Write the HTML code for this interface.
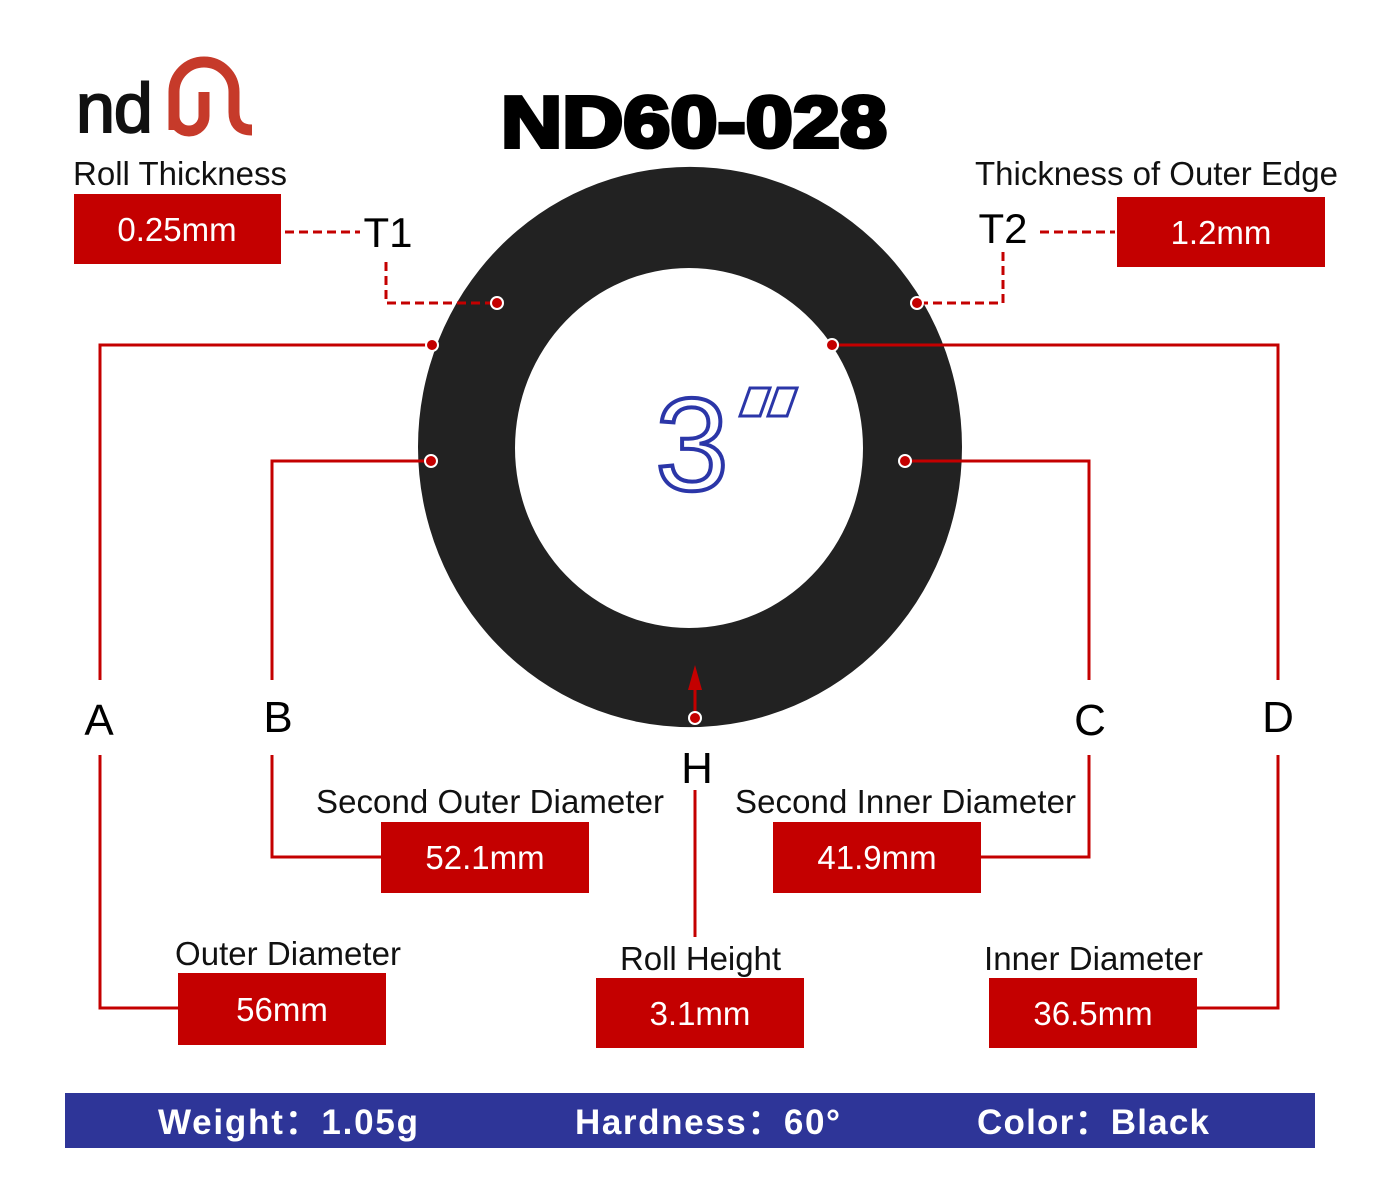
<!DOCTYPE html>
<html><head><meta charset="utf-8"><style>
body{margin:0;background:#fff;}
svg{display:block;font-family:"Liberation Sans",sans-serif;}
</style></head><body>
<svg width="1400" height="1200" viewBox="0 0 1400 1200">
<rect width="1400" height="1200" fill="#fff"/>
<!-- logo -->
<text x="76" y="132" font-size="70" fill="#111" stroke="#111" stroke-width="2" letter-spacing="-1">nd</text>
<path d="M174 130 V92 a30 30 0 0 1 60 0 V112 q0 18 18 18" fill="none" stroke="#c63a2a" stroke-width="11"/>
<path d="M174 100 v16 a15 15 0 0 0 30 0 v-24" fill="none" stroke="#c63a2a" stroke-width="11"/>
<!-- title -->
<text x="694" y="147" font-size="72" font-weight="bold" text-anchor="middle" fill="#000" textLength="386" lengthAdjust="spacingAndGlyphs" stroke="#000" stroke-width="4">ND60-028</text>
<!-- ring -->
<path fill-rule="evenodd" fill="#222" d="M418 447 a272 280 0 1 0 544 0 a272 280 0 1 0 -544 0 Z M515 448 a174 180 0 1 0 348 0 a174 180 0 1 0 -348 0 Z"/>
<text x="692" y="490" font-size="132" text-anchor="middle" fill="#fff" stroke="#2b36a8" stroke-width="4">3</text>
<g fill="#fff" stroke="#2b36a8" stroke-width="3">
<polygon points="750,388 770,388 760,416 740,416"/>
<polygon points="778,388 797,388 787,416 768,416"/>
</g>
<g fill="none" stroke="#c40000" stroke-width="3">
<path d="M432 345 H100 V680 M100 755 V1008 H178"/>
<path d="M431 461 H272 V680 M272 755 V857 H381"/>
<path d="M905 461 H1089 V680 M1089 755 V857 H981"/>
<path d="M832 345 H1278 V680 M1278 755 V1008 H1197"/>
<path d="M695 718 V685 M695 790 V937"/>
<g stroke-dasharray="9 5">
<path d="M285 232 H360 M386 262 V303 H497"/>
<path d="M1040 232 H1115 M1003 252 V303 H917"/>
</g>
</g>
<polygon points="695,665 688,690 702,690" fill="#c40000"/>
<g fill="#c40000" stroke="#fff" stroke-width="2">
<circle cx="432" cy="345" r="6"/><circle cx="431" cy="461" r="6"/><circle cx="905" cy="461" r="6"/><circle cx="832" cy="345" r="6"/><circle cx="695" cy="718" r="6"/><circle cx="497" cy="303" r="6"/><circle cx="917" cy="303" r="6"/>
</g>
<g font-size="44" fill="#000" text-anchor="middle">
<text x="99" y="735">A</text><text x="278" y="732">B</text><text x="1090" y="735">C</text><text x="1278" y="732">D</text><text x="697" y="783">H</text>
<text x="388" y="247" font-size="42">T1</text><text x="1003" y="243" font-size="42">T2</text>
</g>
<g fill="#c40000">
<rect x="74" y="194" width="207" height="70"/><rect x="1117" y="197" width="208" height="70"/>
<rect x="381" y="822" width="208" height="71"/><rect x="773" y="822" width="208" height="71"/>
<rect x="178" y="973" width="208" height="72"/><rect x="596" y="978" width="208" height="70"/><rect x="989" y="978" width="208" height="70"/>
</g>
<g font-size="33" fill="#fff" text-anchor="middle">
<text x="177" y="241">0.25mm</text><text x="1221" y="244">1.2mm</text>
<text x="485" y="869">52.1mm</text><text x="877" y="869">41.9mm</text>
<text x="282" y="1021">56mm</text><text x="700" y="1025">3.1mm</text><text x="1093" y="1025">36.5mm</text>
</g>
<g font-size="33" fill="#111">
<text x="73" y="185" textLength="214">Roll Thickness</text>
<text x="975" y="185" textLength="363">Thickness of Outer Edge</text>
<text x="316" y="813" textLength="348">Second Outer Diameter</text>
<text x="735" y="813" textLength="341">Second Inner Diameter</text>
<text x="175" y="965" textLength="226">Outer Diameter</text>
<text x="620" y="970" textLength="161">Roll Height</text>
<text x="984" y="970" textLength="219">Inner Diameter</text>
</g>
<rect x="65" y="1093" width="1250" height="55" fill="#2e3598"/>
<g font-size="35" font-weight="bold" fill="#fff">
<text x="158" y="1134" textLength="260">Weight：1.05g</text>
<text x="575" y="1134" textLength="265">Hardness：60°</text>
<text x="977" y="1134" textLength="232">Color：Black</text>
</g>
</svg>
</body></html>
